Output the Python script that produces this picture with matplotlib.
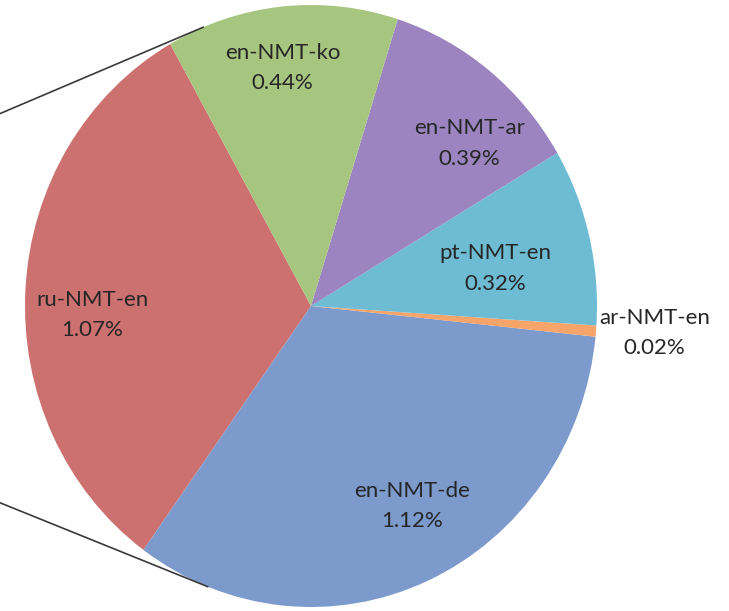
import matplotlib.pyplot as plt
import numpy as np

# ── Data ──────────────────────────────────────────────────────────────
labels = ["ru-NMT-en", "en-NMT-de", "ar-NMT-en", "pt-NMT-en", "en-NMT-ar", "en-NMT-ko"]
values = [1.07, 1.12, 0.02, 0.32, 0.39, 0.44]
colors = ["#CC7170", "#7C9ACC", "#F7A46A", "#6EBCD4", "#9B84BF", "#A6C57F"]

# label centres in pie units (radius = 1)
label_pos = [(-0.765, -0.03), (0.355, -0.665), (1.20, -0.09),
             (0.645, 0.125), (0.555, 0.54), (-0.10, 0.79)]
# angles (deg) where the bar-of-pie connector lines touch the pie
connector_angles = [112, -111]
# ─────────────────────────────────────────────────────────────────────

plt.rcParams["font.family"] = ["Lato", "DejaVu Sans"]

fig = plt.figure(figsize=(7.29, 6.11), dpi=100)
ax = fig.add_axes([25 / 729, 4 / 611, 572 / 729, 602 / 611])

ax.pie(values, colors=colors, startangle=119.5, counterclock=True,
       wedgeprops=dict(linewidth=0))
ax.set_aspect("auto")
ax.set_xlim(-1, 1)
ax.set_ylim(-1, 1)
ax.axis("off")

for lab, val, (x, y) in zip(labels, values, label_pos):
    ax.text(x, y, f"{lab}\n{val:.2f}%", ha="center", va="center",
            fontsize=16, color="#262626", linespacing=1.65, clip_on=False)

# connector lines, tangent to the pie, running off to the left
for a in connector_angles:
    t = np.radians(a)
    px, py = np.cos(t), np.sin(t)
    dx, dy = -np.sin(t), np.cos(t)
    if dx > 0:
        dx, dy = -dx, -dy
    s = (-1.2 - px) / dx
    ax.plot([px, px + s * dx], [py, py + s * dy], color="#3a3a3a",
            lw=1.2, clip_on=False, solid_capstyle="butt")

fig.savefig("out.png", dpi=100, facecolor="white")
